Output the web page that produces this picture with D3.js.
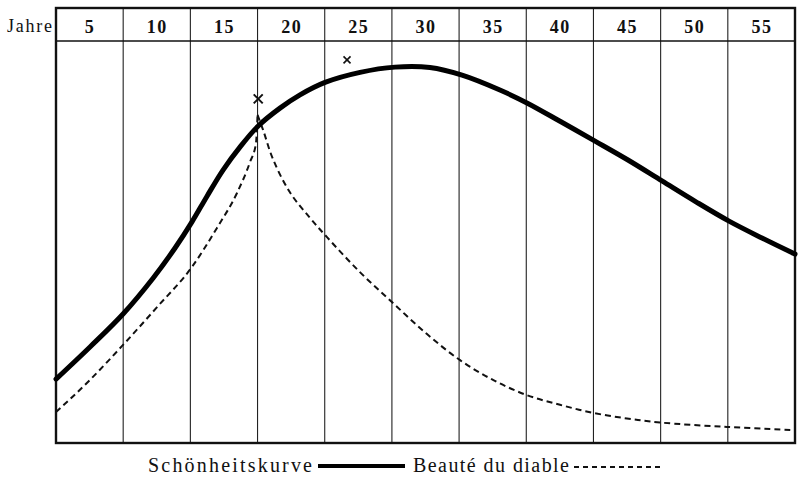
<!DOCTYPE html>
<html><head><meta charset="utf-8">
<script src="https://cdn.jsdelivr.net/npm/d3@7"></script>
<style>
html,body{margin:0;padding:0;background:#fff;}
svg{display:block;}
text{font-family:"Liberation Serif","DejaVu Serif",serif;fill:#111;}
</style></head>
<body>
<svg id="chart" width="798" height="477"></svg>
<script>
// ---- data ----
const ageLabels = [5, 10, 15, 20, 25, 30, 35, 40, 45, 50, 55];
const beautyAges   = [2.5, 5.03, 7.49, 9.72, 11.36, 12.62, 13.74, 14.93, 16.19, 17.53, 19.17, 20.66, 22.52, 25.13, 27.73, 30.33, 32.72, 35.54, 37.55, 40.08, 42.62, 45.07, 47.6, 50.13, 52.59, 55.04, 57.5];
const beautyValues = [15.9, 23.9, 32.1, 41.0, 48.5, 55.0, 61.4, 67.9, 73.6, 78.8, 83.3, 86.6, 89.7, 92.2, 93.5, 93.4, 91.5, 87.8, 84.6, 79.9, 75.1, 70.4, 65.2, 60.0, 55.2, 51.0, 47.0];
const diableRiseAges   = [2.5, 5.03, 7.49, 10.02, 12.62, 14.48, 15.97, 16.94, 17.38, 17.5];
const diableRiseValues = [7.7, 15.7, 24.4, 33.8, 43.8, 53.5, 62.2, 69.9, 74.5, 81.6];
const diableFallAges   = [17.5, 17.91, 18.65, 19.92, 21.4, 22.67, 25.12, 27.58, 30.11, 32.57, 35.02, 37.55, 40.01, 42.47, 44.99, 47.45, 52.44, 57.5];
const diableFallValues = [81.6, 77.9, 70.6, 62.3, 56.0, 51.2, 42.5, 34.8, 27.1, 20.6, 15.7, 11.9, 9.5, 7.5, 6.1, 5.1, 4.0, 3.2];
const markerAges   = [17.55, 24.16];
const markerValues = [85.6, 95.3];
const markerSizes  = [4.5, 3.5];
const headerTitle = "Jahre";
const legendLabels = ["Schönheitskurve", "Beauté du diable"];

// ---- layout ----
const L = 56, R = 795, T = 8, H = 41, B = 443;
const svg = d3.select("#chart");
const x = d3.scaleLinear().domain([2.5, 57.5]).range([L, R]);
const y = d3.scaleLinear().domain([0, 100]).range([B, H]);

// grid lines (column boundaries)
const bounds = d3.range(7.5, 57.5, 5);
svg.append("g").selectAll("line").data(bounds).join("line")
  .attr("x1", d => x(d)).attr("x2", d => x(d))
  .attr("y1", T).attr("y2", B)
  .attr("stroke", "#222").attr("stroke-width", 1.1);

// header separator
svg.append("line").attr("x1", L).attr("x2", R).attr("y1", H).attr("y2", H)
  .attr("stroke", "#111").attr("stroke-width", 1.5);

// frame
svg.append("rect").attr("x", L).attr("y", T).attr("width", R - L).attr("height", B - T)
  .attr("fill", "none").attr("stroke", "#111").attr("stroke-width", 2.4);

// header labels
const xAxis = d3.axisTop(x).tickValues(ageLabels).tickSize(0).tickPadding(0);
const ax = svg.append("g").attr("transform", `translate(0, ${H - 8})`).call(xAxis);
ax.select(".domain").remove();
ax.selectAll("text").attr("font-size", 18).attr("font-weight", "bold")
  .attr("font-family", "'Liberation Serif', serif").attr("fill", "#111").attr("letter-spacing", 1.5);

svg.append("text").attr("x", 7).attr("y", 32).attr("font-size", 18)
  .attr("textLength", 45).attr("lengthAdjust", "spacing").text(headerTitle);

// curves
const beauty = beautyAges.map((a, i) => [a, beautyValues[i]]);
const rise = diableRiseAges.map((a, i) => [a, diableRiseValues[i]]);
const fall = diableFallAges.map((a, i) => [a, diableFallValues[i]]);
const lineM = d3.line().x(d => x(d[0])).y(d => y(d[1])).curve(d3.curveMonotoneX);
const lineC = d3.line().x(d => x(d[0])).y(d => y(d[1])).curve(d3.curveCatmullRom.alpha(0.5));

svg.append("path").attr("d", lineM(rise)).attr("fill", "none")
  .attr("stroke", "#111").attr("stroke-width", 2).attr("stroke-dasharray", "6,4");
svg.append("path").attr("d", lineC(fall)).attr("fill", "none")
  .attr("stroke", "#111").attr("stroke-width", 2).attr("stroke-dasharray", "6,4");
svg.append("path").attr("d", lineC(beauty)).attr("fill", "none")
  .attr("stroke", "#000").attr("stroke-width", 5).attr("stroke-linecap", "round");

// markers
svg.append("g").selectAll("path").data(markerAges).join("path")
  .attr("d", (a, i) => {
    const cx = x(a), cy = y(markerValues[i]), s = markerSizes[i];
    return `M${cx - s},${cy - s}L${cx + s},${cy + s}M${cx - s},${cy + s}L${cx + s},${cy - s}`;
  })
  .attr("stroke", "#111").attr("stroke-width", (a, i) => i === 0 ? 2 : 1.6).attr("fill", "none");

// legend
const lg = svg.append("g");
lg.append("text").attr("x", 148).attr("y", 472).attr("font-size", 20)
  .attr("textLength", 164).attr("lengthAdjust", "spacing").text(legendLabels[0]);
lg.append("line").attr("x1", 318).attr("x2", 405).attr("y1", 466).attr("y2", 466)
  .attr("stroke", "#000").attr("stroke-width", 4);
lg.append("text").attr("x", 413).attr("y", 472).attr("font-size", 20)
  .attr("textLength", 156).attr("lengthAdjust", "spacing").text(legendLabels[1]);
lg.append("line").attr("x1", 574).attr("x2", 660).attr("y1", 467).attr("y2", 467)
  .attr("stroke", "#111").attr("stroke-width", 2).attr("stroke-dasharray", "5,4");
</script>
</body></html>
